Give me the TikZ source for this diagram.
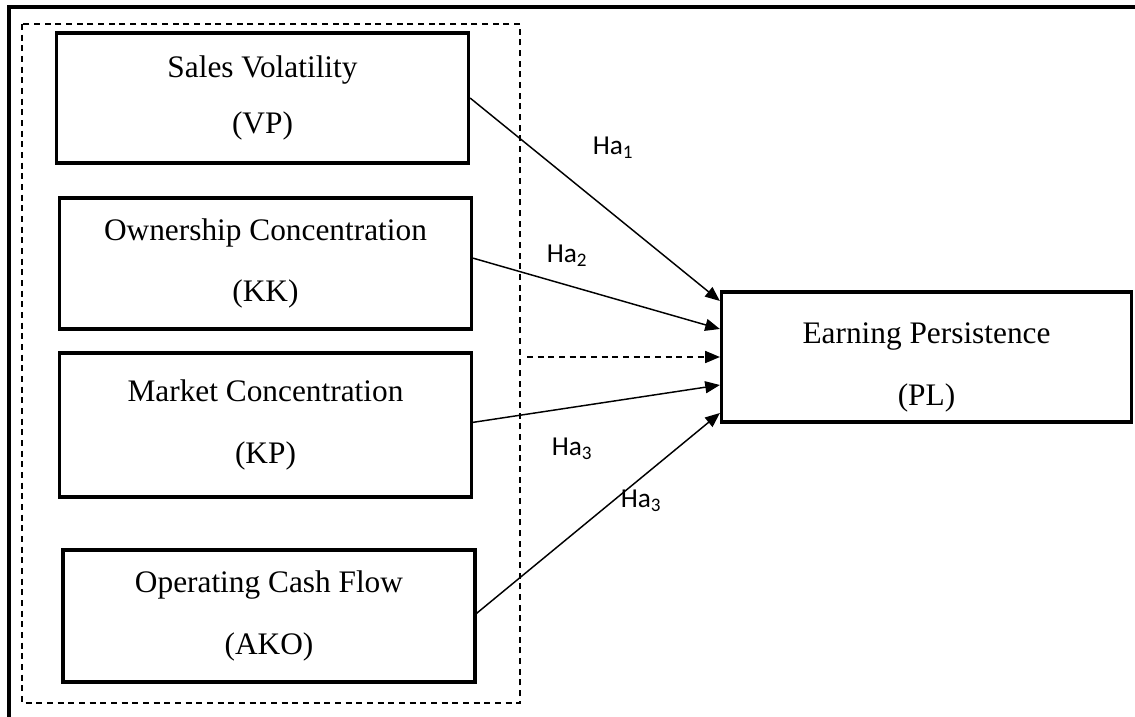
\documentclass[tikz,border=0pt]{standalone}
\usepackage{fontspec}
\setmainfont{Liberation Serif}
\newfontfamily\hafont{Carlito}
\usetikzlibrary{arrows.meta}

\begin{document}
\begin{tikzpicture}[x=0.75pt,y=0.75pt,yscale=-1,xscale=1,
  varbox/.style={draw,line width=2.4pt,minimum width=412pt*0.75,align=center,
    font=\fontsize{23.5}{46}\selectfont},
  hyparrow/.style={line width=1.1pt,-{Triangle[length=11pt,width=9pt]}},
  hlabel/.style={font=\hafont\fontsize{20.5}{24}\selectfont,inner sep=0pt}]
\useasboundingbox (0,0) rectangle (1135,717);

%Shape: Outer frame
\draw[line width=2.4pt] (9,717) -- (9,7) -- (1135,7) ;
%Shape: Dashed group
\draw[line width=1pt,dash pattern=on 4.5pt off 3.5pt] (22,24) rectangle (520,703) ;

% Variable boxes
\node[varbox,minimum height=130*0.75pt,font=\fontsize{23.5}{42}\selectfont] (vp) at (262.5,98) {Sales Volatility\\(VP)};
\node[varbox,minimum height=131*0.75pt] (kk) at (265.5,263.5) {Ownership Concentration\\(KK)};
\node[varbox,minimum height=144*0.75pt] (kp) at (265.5,425) {Market Concentration\\(KP)};
\node[varbox,minimum height=132*0.75pt] (ako) at (269,616) {Operating Cash Flow\\(AKO)};
\node[varbox,minimum height=130*0.75pt,minimum width=410pt*0.75] (pl) at (926.5,357) {\rule{0pt}{31pt}Earning Persistence\\(PL)};

% Arrows
\coordinate (dstart) at (527,357);
\draw[hyparrow] (vp.east) -- ([yshift=-42pt]pl.west);
\draw[hyparrow] ([yshift=-4pt]kk.east) -- ([yshift=-21pt]pl.west);
\draw[hyparrow,dash pattern=on 4.5pt off 3.5pt] (dstart) -- (pl.west);
\draw[hyparrow] ([yshift=-2pt]kp.east) -- ([yshift=21pt]pl.west);
\draw[hyparrow] ([yshift=-2pt]ako.east) -- ([yshift=42pt]pl.west);

% Text Node
\node[hlabel] (ha1) at (613,148) {Ha\textsubscript{1}};
% Text Node
\node[hlabel] (ha2) at (567,256) {Ha\textsubscript{2}};
% Text Node
\node[hlabel] (ha3) at (572,449) {Ha\textsubscript{3}};
% Text Node
\node[hlabel] (ha4) at (641,501) {Ha\textsubscript{3}};
\end{tikzpicture}
\end{document}
